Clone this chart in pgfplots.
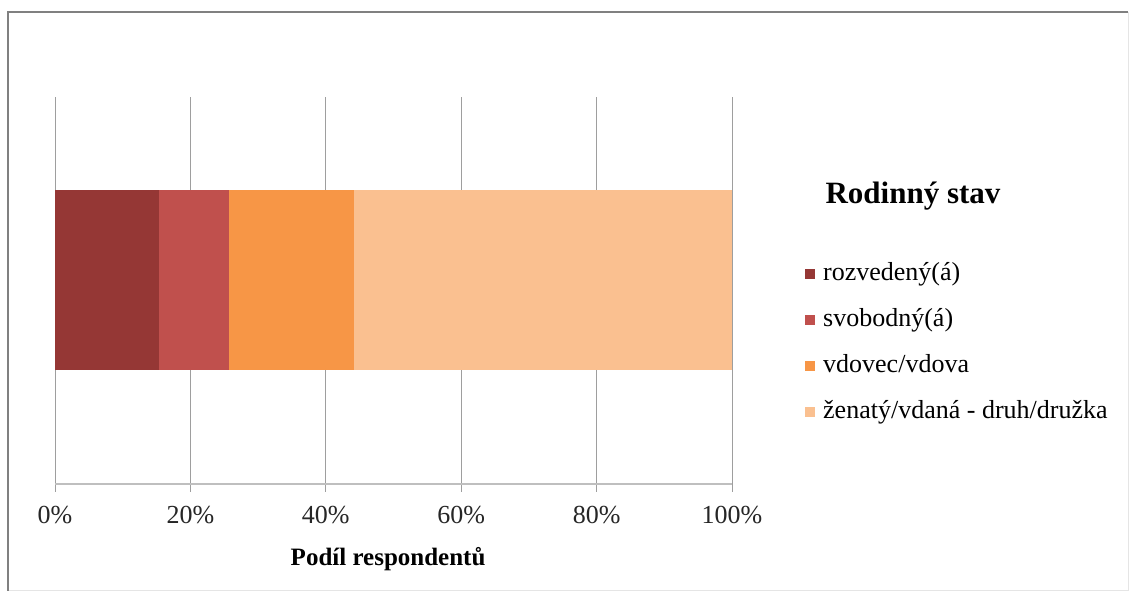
\documentclass[border=0pt]{standalone}
\usepackage{pgfplots}
\pgfplotsset{compat=1.18}
\usepackage{fontspec}
\setmainfont{Liberation Serif}

\definecolor{cRozv}{HTML}{953735}
\definecolor{cSvob}{HTML}{C0504D}
\definecolor{cVdov}{HTML}{F79646}
\definecolor{cZen}{HTML}{FAC090}

\begin{document}
\begin{tikzpicture}
\path[use as bounding box] (0pt,0pt) rectangle (1132pt,594pt);
\fill[white] (0pt,0pt) rectangle (1132pt,594pt);
% frame around the chart area
\draw[black!10, line width=1pt] (1128pt,582pt) -- (1128pt,3pt) -- (8pt,3pt);
\draw[black!50, line width=2pt] (8pt,3pt) -- (8pt,582pt) -- (1128pt,582pt);

\begin{axis}[
  at={(55pt,110pt)}, anchor=south west,
  width=677pt, height=387pt, scale only axis,
  xbar stacked, bar width=0.465,
  xmin=0, xmax=100, ymin=0, ymax=1,
  xtick={0,20,40,60,80,100},
  xticklabels={0\%,20\%,40\%,60\%,80\%,100\%},
  ytick=\empty,
  axis x line*=bottom, axis y line=none,
  xmajorgrids, grid style={black!38, line width=1pt},
  x axis line style={black!25, line width=2pt},
  tick align=outside, major tick length=8pt,
  xtick style={black!38, line width=1pt},
  xticklabel style={font=\fontsize{26}{26}\selectfont, text=black!85, yshift=-11pt},
  xlabel={\textbf{Podíl respondentů}},
  xlabel style={font=\fontsize{25}{25}\selectfont, at={(rel axis cs:0.492,0)}, anchor=base, yshift=-81pt},
  legend cell align=left,
  legend style={at={(rel axis cs:1.1078,0.5788)}, anchor=north west,
    draw=none, fill=none, inner sep=0pt, row sep=18pt,
    font=\fontsize{26}{26}\selectfont,
    nodes={text height=18pt, text depth=6pt, inner sep=2pt},
    /tikz/every odd column/.append style={column sep=6pt}},
  legend image code/.code={\fill[#1] (0pt,-5pt) rectangle (10pt,5pt);},
  clip=false,
]
\addplot[fill=cRozv, draw=none] coordinates {(15.4,0.527)};
\addlegendentry{rozvedený(á)}
\addplot[fill=cSvob, draw=none] coordinates {(10.3,0.527)};
\addlegendentry{svobodný(á)}
\addplot[fill=cVdov, draw=none] coordinates {(18.5,0.527)};
\addlegendentry{vdovec/vdova}
\addplot[fill=cZen, draw=none] coordinates {(55.8,0.527)};
\addlegendentry{ženatý/vdaná - druh/družka}
\end{axis}

\node[anchor=base west, font=\bfseries\fontsize{31}{31}\selectfont] at (822pt,390pt) {Rodinný stav};
\end{tikzpicture}
\end{document}
